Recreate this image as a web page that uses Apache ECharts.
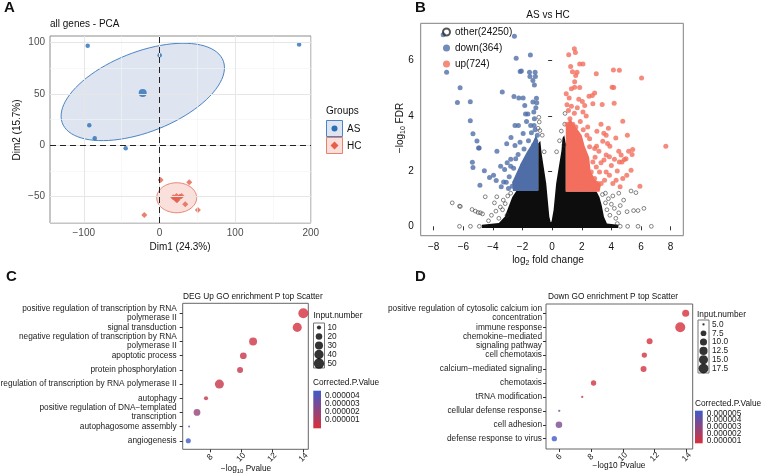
<!DOCTYPE html>
<html>
<head>
<meta charset="utf-8">
<script src="https://cdn.jsdelivr.net/npm/echarts@6/dist/echarts.min.js"></script>
<style>html,body{margin:0;padding:0;background:#fff}#chart{width:763px;height:476px}</style>
</head>
<body>
<div id="chart"></div>
<script>
// ---------- panel A : PCA ----------
const pcaAS = [[-94.8, 97.1], [0.3, 87.7], [-92.7, 19.5], [-85.5, 6.8], [-44.6, -2.9], [184.6, 98.1]]
const pcaHC = [[1.6, -33.8], [39.4, -36.1], [-20, -67.9], [34.1, -57.5], [50.8, -63.1],
  [21.4, -51.7], [27, -50.1], [18.2, -50.7], [23.5, -53.3], [29.3, -49.4]]
// cx, cy, semi axis a, semi axis b, angle (deg), in data units
const ellipseAS = [-22, 52, 110.9, 40.1, 14.2]
const ellipseHC = [22.8, -51.1, 26.4, 14.6, 0]
const pcaTicksX = [-100, 0, 100, 200]
const pcaTicksY = [-50, 0, 50, 100]
const pcaMinorX = [-50, 50, 150]
const pcaMinorY = [-75, -25, 25, 75]

// ---------- panel B : volcano ----------
const volTicksX = [-8, -6, -4, -2, 0, 2, 4, 6, 8]
const volTicksY = [0, 2, 4, 6]
const downPts = [[-7.36, 6.94], [-7.13, 5.58], [-6.22, 5.02], [-6.4, 4.49], [-5.53, 4.51], [-5.53, 3.82], [-5.35, 3.35],
  [-5.08, 3.09], [-4.97, 2.84], [-4.93, 2.84], [-5.39, 2.32], [-5.35, 2.13], [-4.58, 2.01], [-4.23, 1.77], [-4.88, 1.49],
  [-3.78, 1.66], [-3.73, 2.72], [-3.37, 4.87], [-2.55, 6.89], [-2.43, 6.09], [-1.47, 6.21], [-2.16, 5.61], [-2.08, 5.63],
  [-1.53, 5.58], [-1.15, 5.58], [-1.5, 5.43], [-1.13, 5.43], [-1.3, 5.28], [-1.2, 5.12], [-2.58, 4.7], [-2.25, 4.65],
  [-1.96, 4.65], [-1.85, 4.38], [-1.06, 4.64], [-1.3, 4.5], [-1.04, 4.48], [-1.1, 4.3], [-1.8, 4.07], [-1.64, 4.07],
  [-1.24, 4.14], [-2.51, 3.65], [-2.28, 3.65], [-1.73, 3.8], [-1.45, 3.65], [-1.22, 3.65], [-1.96, 3.36], [-1.4, 3.39],
  [-2.78, 3.22], [-3.07, 2.99], [-2.51, 2.93], [-2.17, 3.05], [-2.8, 2.43], [-2.46, 2.45], [-3.04, 2.3], [-2.8, 2.18],
  [-3.48, 2.18], [-3.21, 2.06], [-3.96, 1.85], [-3.28, 1.61], [-2.95, 1.37], [-3.44, 1.43], [-1.2, 3.9], [-1.15, 3.5],
  [-1.0, 3.3], [-1.6, 3.1], [-1.9, 2.8], [-1.25, 2.95], [-2.3, 2.6], [-2.6, 2.1], [-2.0, 2.2], [-2.2, 1.9], [-2.9, 1.8],
  [-2.5, 1.6], [-3.1, 1.6], [-2.7, 1.45]]
const upPts = [[1.5, 6.43], [1.57, 6.3], [1.12, 6.22], [1.25, 5.79], [1.86, 5.88], [2.08, 5.88], [1.37, 5.6], [1.68, 5.58],
  [1.59, 5.46], [2.98, 5.53], [4.14, 5.66], [4.54, 5.65], [6.04, 5.37], [1.52, 5.24], [1.3, 4.98], [1.52, 5.04], [1.86, 5.03],
  [4.05, 5.04], [4.16, 5.03], [2.87, 4.83], [2.49, 4.71], [2.71, 4.74], [2.04, 4.52], [2.2, 4.38], [2.75, 4.44], [3.38, 4.41],
  [4.19, 4.46], [2.08, 4.14], [2.3, 4.0], [4.77, 3.81], [5.08, 3.3], [7.68, 2.9], [2.35, 3.3], [2.53, 3.17], [3.02, 3.44],
  [3.49, 3.37], [3.65, 3.3], [3.42, 3.08], [3.74, 3.0], [2.53, 2.88], [2.87, 2.82], [3.16, 2.72], [3.65, 2.58], [3.87, 2.52],
  [4.21, 2.43], [4.54, 2.33], [4.72, 2.33], [4.88, 2.42], [5.17, 2.72], [5.44, 2.78], [5.4, 2.6], [4.5, 2.72], [4.66, 2.58],
  [4.99, 2.45], [5.33, 2.03], [5.04, 1.85], [4.77, 1.73], [4.32, 1.67], [4.1, 1.55], [4.59, 1.43], [3.65, 1.97], [3.87, 1.85],
  [3.54, 1.67], [3.31, 1.55], [2.75, 2.33], [2.98, 2.15], [3.2, 1.97], [2.64, 1.97], [2.87, 1.73], [3.09, 1.55], [5.93, 1.45],
  [1.86, 1.61], [2.3, 1.49], [1.0, 4.4], [1.1, 4.2], [1.3, 4.35], [1.5, 4.1], [1.7, 4.3], [1.2, 3.9], [1.9, 3.8], [1.6, 3.6],
  [2.1, 3.5], [1.4, 3.7], [1.0, 3.7], [2.4, 3.6], [1.8, 4.6], [0.95, 4.8], [1.15, 4.65], [3.3, 3.7], [3.8, 3.55], [4.3, 3.2],
  [3.9, 2.9], [3.0, 2.9], [4.0, 2.2], [4.4, 2.0], [3.5, 2.4], [2.9, 2.5], [3.3, 2.3]]
const otherPts = [[-6.75, 0.85], [-6.26, 0.73], [-6.2, 0.72], [-5.41, 0.61], [-5.19, 0.55], [-5.0, 0.5], [-4.85, 0.49],
  [-4.7, 0.45], [-6.26, 0], [-5.52, 0], [-4.92, 0], [-3.6, 0.29], [-4.52, 1.07], [-3.74, 1.07], [-3.5, 0.7], [-3.17, 0.82],
  [-3.8, 0.55], [-3.3, 0.95], [-3.0, 1.1], [-2.8, 1.2], [-4.1, 0.4], [-3.9, 0.85], [-3.35, 0.6], [-3.05, 0.4], [-4.3, 0.2],
  [5.33, 1.28], [5.66, 1.22], [4.5, 1.2], [4.83, 0.95], [5.06, 0.53], [5.5, 0.57], [5.8, 0.57], [6.2, 0.65], [4.5, 0.49],
  [4.3, 0.29], [5.1, 0], [5.8, 0], [6.7, 0], [3.6, 1.2], [3.8, 1.0], [4.0, 0.8], [3.7, 0.6], [4.2, 0.65], [3.9, 0.4],
  [3.4, 1.15], [4.1, 1.1], [3.6, 0.85], [4.6, 0.75], [-0.87, 3.78], [0.87, 4.09], [0.62, 3.45], [-0.83, 3.47], [-0.67, 3.3],
  [0.5, 3.1], [0.3, 2.7], [-0.54, 2.7], [-0.95, 3.55], [0.85, 3.7], [-0.9, 3.95], [0.8, 2.95], [4.6, 0], [4.4, 0.1]]
// outlines of the regions where the points overlap into a solid mass
const otherDense = [[-4.75, -0.06], [4.45, -0.06], [4.45, 0.06], [3.7, 0.1], [3.5, 0.35], [3.35, 0.75], [3.2, 1.05],
  [3.0, 1.26], [0.92, 1.26], [0.92, 3.0], [0.82, 3.3], [0.7, 3.2], [0.63, 2.75], [0.27, 1.55], [0.1, 0.6], [-0.04, 0.17],
  [-0.1, 0.15], [-0.19, 0.35], [-0.4, 1.55], [-0.7, 2.6], [-0.8, 3.1], [-0.94, 3.0], [-0.94, 1.3], [-2.4, 1.3],
  [-2.7, 1.05], [-2.95, 0.7], [-3.2, 0.35], [-3.6, 0.12], [-4.75, 0.06]]
const downDense = [[-0.94, 1.28], [-2.65, 1.28], [-2.7, 1.6], [-2.4, 1.95], [-2.1, 2.3], [-1.7, 2.7], [-1.35, 3.0],
  [-1.1, 3.3], [-0.94, 3.1]]
const upDense = [[0.92, 1.25], [3.2, 1.25], [3.3, 1.5], [2.9, 1.7], [2.6, 2.0], [2.5, 2.5], [2.2, 2.9], [2.0, 3.3],
  [1.6, 3.6], [1.2, 3.9], [0.92, 3.6]]

// ---------- panel C : up GO ----------
const upTerms = ['positive regulation of transcription by RNA\npolymerase II', 'signal transduction',
  'negative regulation of transcription by RNA\npolymerase II', 'apoptotic process', 'protein phosphorylation',
  'regulation of transcription by RNA polymerase II', 'autophagy',
  'positive regulation of DNA\u2212templated\ntranscription', 'autophagosome assembly', 'angiogenesis']
const upLogP = [14.0, 13.61, 10.77, 10.14, 9.93, 8.6, 7.74, 7.16, 6.65, 6.6]
const upCount = [47, 38, 29, 21, 17, 38, 10, 21, 7, 13]
const upPadj = [0.1e-6, 0.15e-6, 0.3e-6, 0.45e-6, 0.5e-6, 0.5e-6, 0.6e-6, 2.0e-6, 4.4e-6, 4.5e-6]
const upSizeBreaks = [10, 20, 30, 40, 50]
const upPBreaks = [1e-6, 2e-6, 3e-6, 4e-6]

// ---------- panel D : down GO ----------
const downTerms = ['positive regulation of cytosolic calcium ion\nconcentration', 'immune response',
  'chemokine\u2212mediated\nsignaling pathway', 'cell chemotaxis', 'calcium\u2212mediated signaling', 'chemotaxis',
  'tRNA modification', 'cellular defense response', 'cell adhesion', 'defense response to virus']
const downLogP = [13.94, 13.6, 11.68, 11.35, 11.3, 8.17, 7.46, 6.02, 6.0, 5.71]
const downCount = [10, 18, 8, 7, 8, 7, 5, 5, 9, 7]
const downPadj = [0.6e-6, 0.62e-6, 0.7e-6, 0.75e-6, 0.75e-6, 0.8e-6, 0.9e-6, 3.6e-6, 3.5e-6, 5.3e-6]
const downSizeBreaks = [5, 7.5, 10, 12.5, 15, 17.5]
const downPBreaks = [1e-6, 2e-6, 3e-6, 4e-6, 5e-6]

// ---------- styling ----------
const FONT = "'Liberation Sans', Arial, sans-serif"
const AS_COL = '#2a6fb5', HC_COL = '#e5604b'
const DOWN_COL = '#4f6ea8', UP_COL = '#f36e5d'
const LOW_P = '#d8303a', HIGH_P = '#3f5bc9'
const minus = v => String(v).replace('-', '\u2212')
const sizeUp = n => 2 + 8.5 * Math.sqrt(Math.max(0, (n - 7) / 45))
const sizeDown = n => 2.3 + 7.7 * Math.sqrt(Math.max(0, (n - 5) / 13))
const upPRange = [0, 4.56e-6]
const downPRange = [0.55e-6, 5.39e-6]

const mean = pts => [pts.reduce((s, p) => s + p[0], 0) / pts.length, pts.reduce((s, p) => s + p[1], 0) / pts.length]

const myChart = echarts.init(document.getElementById('chart'), null, { renderer: 'canvas' })

const grid = (left, top, width, height, border) => ({
  left, top, width, height, show: true, borderColor: border || '#888', borderWidth: 1,
  backgroundColor: 'rgba(0,0,0,0)', containLabel: false, outerBoundsMode: 'none'
})

const valAxis = (gi, min, max, ticks, extra) => Object.assign({
  gridIndex: gi, type: 'value', min, max,
  axisLine: { show: false },
  axisTick: { show: true, customValues: ticks, length: 3, lineStyle: { color: '#333', width: 1 } },
  axisLabel: { show: true, customValues: ticks, formatter: minus, fontSize: 10, color: '#222', fontFamily: FONT, margin: 5 },
  splitLine: { show: false }
}, extra || {})

const hidden = (gi, min, max) => ({ gridIndex: gi, type: 'value', min, max, show: false, splitLine: { show: false } })

const legendAxis = (gi, min, max, ticks, fmt, extraLabel) => ({
  gridIndex: gi, type: 'value', min, max, position: 'right',
  axisLine: { show: false }, axisTick: { show: false }, splitLine: { show: false },
  axisLabel: Object.assign({ customValues: ticks, formatter: fmt, fontSize: 8.3, color: '#222', fontFamily: FONT, margin: 3,
    hideOverlap: false, showMinLabel: true, showMaxLabel: true, lineHeight: 6 }, extraLabel || {})
})

const ellipseSeries = (e, fill, stroke) => ({
  type: 'custom', xAxisIndex: 0, yAxisIndex: 0, silent: true, data: [[e[0], e[1]]], z: 2,
  renderItem: (params, api) => {
    const t = e[4] * Math.PI / 180
    const pts = []
    for (let i = 0; i <= 90; i++) {
      const u = i / 90 * 2 * Math.PI
      pts.push(api.coord([
        e[0] + e[2] * Math.cos(u) * Math.cos(t) - e[3] * Math.sin(u) * Math.sin(t),
        e[1] + e[2] * Math.cos(u) * Math.sin(t) + e[3] * Math.sin(u) * Math.cos(t)
      ]))
    }
    return { type: 'polygon', shape: { points: pts }, style: { fill, stroke, lineWidth: 1 } }
  }
})

const polySeries = (pts, color) => ({
  type: 'custom', xAxisIndex: 1, yAxisIndex: 1, silent: true, data: [pts[0]], clip: true,
  renderItem: (params, api) => ({
    type: 'polygon', shape: { points: pts.map(p => api.coord(p)) }, style: { fill: color }
  })
})

const colorbarSeries = (xi, range) => ({
  type: 'custom', xAxisIndex: xi, yAxisIndex: xi, silent: true, data: [[0, range[0], range[1]]],
  renderItem: (params, api) => {
    const p0 = api.coord([0, api.value(1)])
    const p1 = api.coord([1, api.value(2)])
    return {
      type: 'rect', shape: { x: p0[0], y: p1[1], width: p1[0] - p0[0], height: p0[1] - p1[1] },
      style: { fill: new echarts.graphic.LinearGradient(0, 0, 0, 1, [{ offset: 0, color: HIGH_P }, { offset: 1, color: LOW_P }]) }
    }
  }
})

const gridLines = [
  ...pcaMinorX.map(v => ({ xAxis: v, lineStyle: { color: '#f3f3f3', width: 0.6, type: 'solid' } })),
  ...pcaMinorY.map(v => ({ yAxis: v, lineStyle: { color: '#f3f3f3', width: 0.6, type: 'solid' } })),
  ...pcaTicksX.map(v => ({ xAxis: v, lineStyle: { color: '#e6e6e6', width: 1, type: 'solid' } })),
  ...pcaTicksY.map(v => ({ yAxis: v, lineStyle: { color: '#e6e6e6', width: 1, type: 'solid' } }))
]

const goData = (logP, count, padj) => logP.map((x, i) => [x, i + 1, count[i], padj[i]])

const txt = (x, y, text, size, extra) => ({
  type: 'text', x, y, silent: true,
  style: Object.assign({ text, fontSize: size, fontFamily: FONT, fill: '#111', align: 'left', verticalAlign: 'middle' }, extra || {})
})

const subRich = { a: { fontSize: 10, fontFamily: FONT, fill: '#111' }, s: { fontSize: 7, fontFamily: FONT, fill: '#111', padding: [6, 0, 0, 0] } }
const subRichSmall = { a: { fontSize: 8.3, fontFamily: FONT, fill: '#111' }, s: { fontSize: 6, fontFamily: FONT, fill: '#111', padding: [5, 0, 0, 0] } }

// the colour bar labels of panel D sit closer than their height, so they are split over two axes
const downPBreaksA = downPBreaks.filter((v, i) => i % 2 === 0)
const downPBreaksB = downPBreaks.filter((v, i) => i % 2 === 1)

myChart.setOption({
  animation: false,
  backgroundColor: '#fff',
  textStyle: { fontFamily: FONT },
  grid: [
    grid(50, 36, 261, 187, '#8c8c8c'),
    grid(420.7, 23.3, 262.6, 212.4, '#808080'),
    grid(182.7, 303.3, 125.6, 146, '#666'),
    grid(546, 304, 146.7, 145, '#666'),
    grid(313.5, 323, 11, 45, '#777'),
    grid(698, 320, 11, 53, '#777'),
    Object.assign(grid(313.3, 390.7, 7.7, 37.6), { show: false }),
    Object.assign(grid(695, 410.7, 7.7, 32.6), { show: false })
  ],
  xAxis: [
    valAxis(0, -144.6, 200.3, pcaTicksX, { axisLabel: { customValues: pcaTicksX, formatter: minus, fontSize: 10, color: '#4d4d4d', fontFamily: FONT, margin: 5 } }),
    valAxis(1, -8.88, 8.86, volTicksX, { axisTick: { show: true, customValues: volTicksX, length: 4, lineStyle: { color: '#333' } }, axisLabel: { customValues: volTicksX, formatter: minus, fontSize: 10, color: '#111', fontFamily: FONT, margin: 7 } }),
    valAxis(2, 6.24, 14.32, [8, 10, 12, 14], { axisLabel: { customValues: [8, 10, 12, 14], fontSize: 8.3, color: '#222', fontFamily: FONT, rotate: 45, align: 'center', verticalAlign: 'middle', margin: 8 } }),
    valAxis(3, 5.19, 14.38, [6, 8, 10, 12, 14], { axisLabel: { customValues: [6, 8, 10, 12, 14], fontSize: 8.3, color: '#222', fontFamily: FONT, rotate: 45, align: 'center', verticalAlign: 'middle', margin: 8 } }),
    hidden(4, 0, 1), hidden(5, 0, 1), hidden(6, 0, 1), hidden(7, 0, 1)
  ],
  yAxis: [
    valAxis(0, -75.7, 106.5, pcaTicksY, { axisLabel: { customValues: pcaTicksY, formatter: minus, fontSize: 10, color: '#4d4d4d', fontFamily: FONT, margin: 5 } }),
    valAxis(1, -0.34, 7.355, volTicksY, { axisTick: { show: true, customValues: volTicksY, length: 4, lineStyle: { color: '#333' } }, axisLabel: { customValues: volTicksY, fontSize: 10, color: '#111', fontFamily: FONT, margin: 7 } }),
    valAxis(2, 0.3, 10.6, [1, 2, 3, 4, 5, 6, 7, 8, 9, 10], { inverse: true, axisLabel: { customValues: [1, 2, 3, 4, 5, 6, 7, 8, 9, 10], formatter: v => upTerms[v - 1], fontSize: 8.3, lineHeight: 9, color: '#222', fontFamily: FONT, margin: 6, align: 'right' } }),
    valAxis(3, 0.33, 10.74, [1, 2, 3, 4, 5, 6, 7, 8, 9, 10], { inverse: true, axisLabel: { customValues: [1, 2, 3, 4, 5, 6, 7, 8, 9, 10], formatter: v => downTerms[v - 1], fontSize: 8.3, lineHeight: 8.5, color: '#222', fontFamily: FONT, margin: 4, align: 'right' } }),
    Object.assign(legendAxis(4, 0.5, 5.5, [1, 2, 3, 4, 5], v => String(upSizeBreaks[v - 1])), { inverse: true }),
    Object.assign(legendAxis(5, 0.5, 6.5, [1, 2, 3, 4, 5, 6], v => downSizeBreaks[v - 1].toFixed(1)), { inverse: true }),
    legendAxis(6, upPRange[0], upPRange[1], upPBreaks, v => v.toFixed(6), { margin: 4 }),
    legendAxis(7, downPRange[0], downPRange[1], downPBreaksA, v => v.toFixed(6), { margin: 4 }),
    legendAxis(7, downPRange[0], downPRange[1], downPBreaksB, v => v.toFixed(6), { margin: 4 })
  ],
  visualMap: [
    { type: 'continuous', show: false, seriesIndex: 14, dimension: 3, min: upPRange[0], max: upPRange[1], inRange: { color: [LOW_P, HIGH_P] } },
    { type: 'continuous', show: false, seriesIndex: 15, dimension: 3, min: downPRange[0], max: downPRange[1], inRange: { color: [LOW_P, HIGH_P] } }
  ],
  legend: {
    data: ['other(24250)', 'down(364)', 'up(724)'],
    orient: 'vertical', left: 437, top: 21, itemWidth: 7, itemHeight: 7, itemGap: 4, selectedMode: false,
    textStyle: { fontSize: 10, color: '#111', fontFamily: FONT, lineHeight: 12 }
  },
  series: [
    // 0 panel A grid lines
    { type: 'line', xAxisIndex: 0, yAxisIndex: 0, data: [], z: 1,
      markLine: { silent: true, symbol: ['none', 'none'], label: { show: false }, animation: false, data: gridLines } },
    // 1, 2 ellipses
    ellipseSeries(ellipseAS, 'rgba(60,100,170,0.17)', '#4a84c4'),
    ellipseSeries(ellipseHC, 'rgba(231,96,75,0.2)', '#e8826f'),
    // 3 zero dashed lines
    { type: 'line', xAxisIndex: 0, yAxisIndex: 0, data: [], z: 3,
      markLine: { silent: true, symbol: ['none', 'none'], label: { show: false }, animation: false,
        lineStyle: { color: '#222', width: 1, type: [6, 4] }, data: [{ xAxis: 0 }, { yAxis: 0 }] } },
    // 4..7 PCA points
    { type: 'scatter', xAxisIndex: 0, yAxisIndex: 0, data: pcaAS, symbol: 'circle', symbolSize: 4.5, itemStyle: { color: AS_COL }, z: 4, silent: true },
    { type: 'scatter', xAxisIndex: 0, yAxisIndex: 0, data: pcaHC, symbol: 'diamond', symbolSize: 6, itemStyle: { color: HC_COL }, z: 4, silent: true },
    { type: 'scatter', xAxisIndex: 0, yAxisIndex: 0, data: [mean(pcaAS)], symbol: 'circle', symbolSize: 8, itemStyle: { color: AS_COL }, z: 4, silent: true },
    { type: 'scatter', xAxisIndex: 0, yAxisIndex: 0, data: [mean(pcaHC)], symbol: 'diamond', symbolSize: 10, itemStyle: { color: HC_COL }, z: 4, silent: true },
    // 8..13 volcano
    polySeries(otherDense, '#0d0d0d'),
    { name: 'other(24250)', type: 'scatter', xAxisIndex: 1, yAxisIndex: 1, data: otherPts, symbol: 'circle', symbolSize: 3.8,
      itemStyle: { color: 'rgba(255,255,255,0)', borderColor: '#2a2a2a', borderWidth: 0.7 }, silent: true },
    polySeries(downDense, DOWN_COL),
    { name: 'down(364)', type: 'scatter', xAxisIndex: 1, yAxisIndex: 1, data: downPts, symbol: 'circle', symbolSize: 5, itemStyle: { color: DOWN_COL }, silent: true },
    polySeries(upDense, UP_COL),
    { name: 'up(724)', type: 'scatter', xAxisIndex: 1, yAxisIndex: 1, data: upPts, symbol: 'circle', symbolSize: 5, itemStyle: { color: UP_COL }, silent: true },
    // 14, 15 GO dot plots
    { type: 'scatter', xAxisIndex: 2, yAxisIndex: 2, data: goData(upLogP, upCount, upPadj), symbolSize: v => sizeUp(v[2]), silent: true },
    { type: 'scatter', xAxisIndex: 3, yAxisIndex: 3, data: goData(downLogP, downCount, downPadj), symbolSize: v => sizeDown(v[2]), silent: true },
    // 16, 17 size legends
    { type: 'scatter', xAxisIndex: 4, yAxisIndex: 4, data: upSizeBreaks.map((n, i) => [0.5, i + 1, n]), symbolSize: v => sizeUp(v[2]), itemStyle: { color: '#000' }, silent: true },
    { type: 'scatter', xAxisIndex: 5, yAxisIndex: 5, data: downSizeBreaks.map((n, i) => [0.5, i + 1, n]), symbolSize: v => sizeDown(v[2]), itemStyle: { color: '#000' }, silent: true },
    // 18, 19 colour bars
    colorbarSeries(6, upPRange),
    colorbarSeries(7, downPRange)
  ],
  graphic: [
    txt(4, 8, 'A', 15, { fontWeight: 'bold' }),
    txt(415, 8, 'B', 15, { fontWeight: 'bold' }),
    txt(6, 277, 'C', 15, { fontWeight: 'bold' }),
    txt(415, 277, 'D', 15, { fontWeight: 'bold' }),
    // panel A
    txt(50, 24, 'all genes - PCA', 10),
    Object.assign(txt(17, 130, 'Dim2 (15.7%)', 10, { align: 'center' }), { rotation: Math.PI / 2 }),
    txt(180, 247, 'Dim1 (24.3%)', 10, { align: 'center' }),
    txt(326, 111, 'Groups', 10),
    { type: 'rect', shape: { x: 326.5, y: 120.5, width: 16, height: 16 }, style: { fill: 'rgba(60,100,170,0.17)', stroke: '#4a84c4', lineWidth: 1 }, silent: true },
    { type: 'rect', shape: { x: 326.5, y: 137.5, width: 16, height: 16 }, style: { fill: 'rgba(231,96,75,0.2)', stroke: '#e8826f', lineWidth: 1 }, silent: true },
    { type: 'circle', shape: { cx: 334.5, cy: 128.5, r: 3 }, style: { fill: AS_COL }, silent: true },
    { type: 'polygon', shape: { points: [[334.5, 141.5], [338.5, 145.5], [334.5, 149.5], [330.5, 145.5]] }, style: { fill: HC_COL }, silent: true },
    txt(347, 129, 'AS', 10),
    txt(347, 146, 'HC', 10),
    // panel B
    txt(548, 15, 'AS vs HC', 10, { align: 'center' }),
    { type: 'text', x: 400, y: 128, rotation: Math.PI / 2, silent: true,
      style: { text: '{a|\u2212log}{s|10}{a| FDR}', rich: subRich, align: 'center', verticalAlign: 'middle' } },
    { type: 'text', x: 548, y: 260, silent: true,
      style: { text: '{a|log}{s|2}{a| fold change}', rich: subRich, align: 'center', verticalAlign: 'middle' } },
    // panel C
    txt(183, 297, 'DEG Up GO enrichment P top Scatter', 8.3),
    { type: 'text', x: 246, y: 469, silent: true,
      style: { text: '{a|\u2212log}{s|10}{a| Pvalue}', rich: subRichSmall, align: 'center', verticalAlign: 'middle' } },
    txt(313.5, 316, 'Input.number', 8.3),
    txt(313, 383, 'Corrected.P.Value', 8.3),
    // panel D
    txt(548, 297, 'Down GO enrichment P top Scatter', 8.3),
    txt(619, 466, '\u2212log10 Pvalue', 8.3, { align: 'center' }),
    txt(697, 315, 'Input.number', 8.3),
    txt(695, 404, 'Corrected.P.Value', 8.3)
  ]
})
</script>
</body>
</html>
